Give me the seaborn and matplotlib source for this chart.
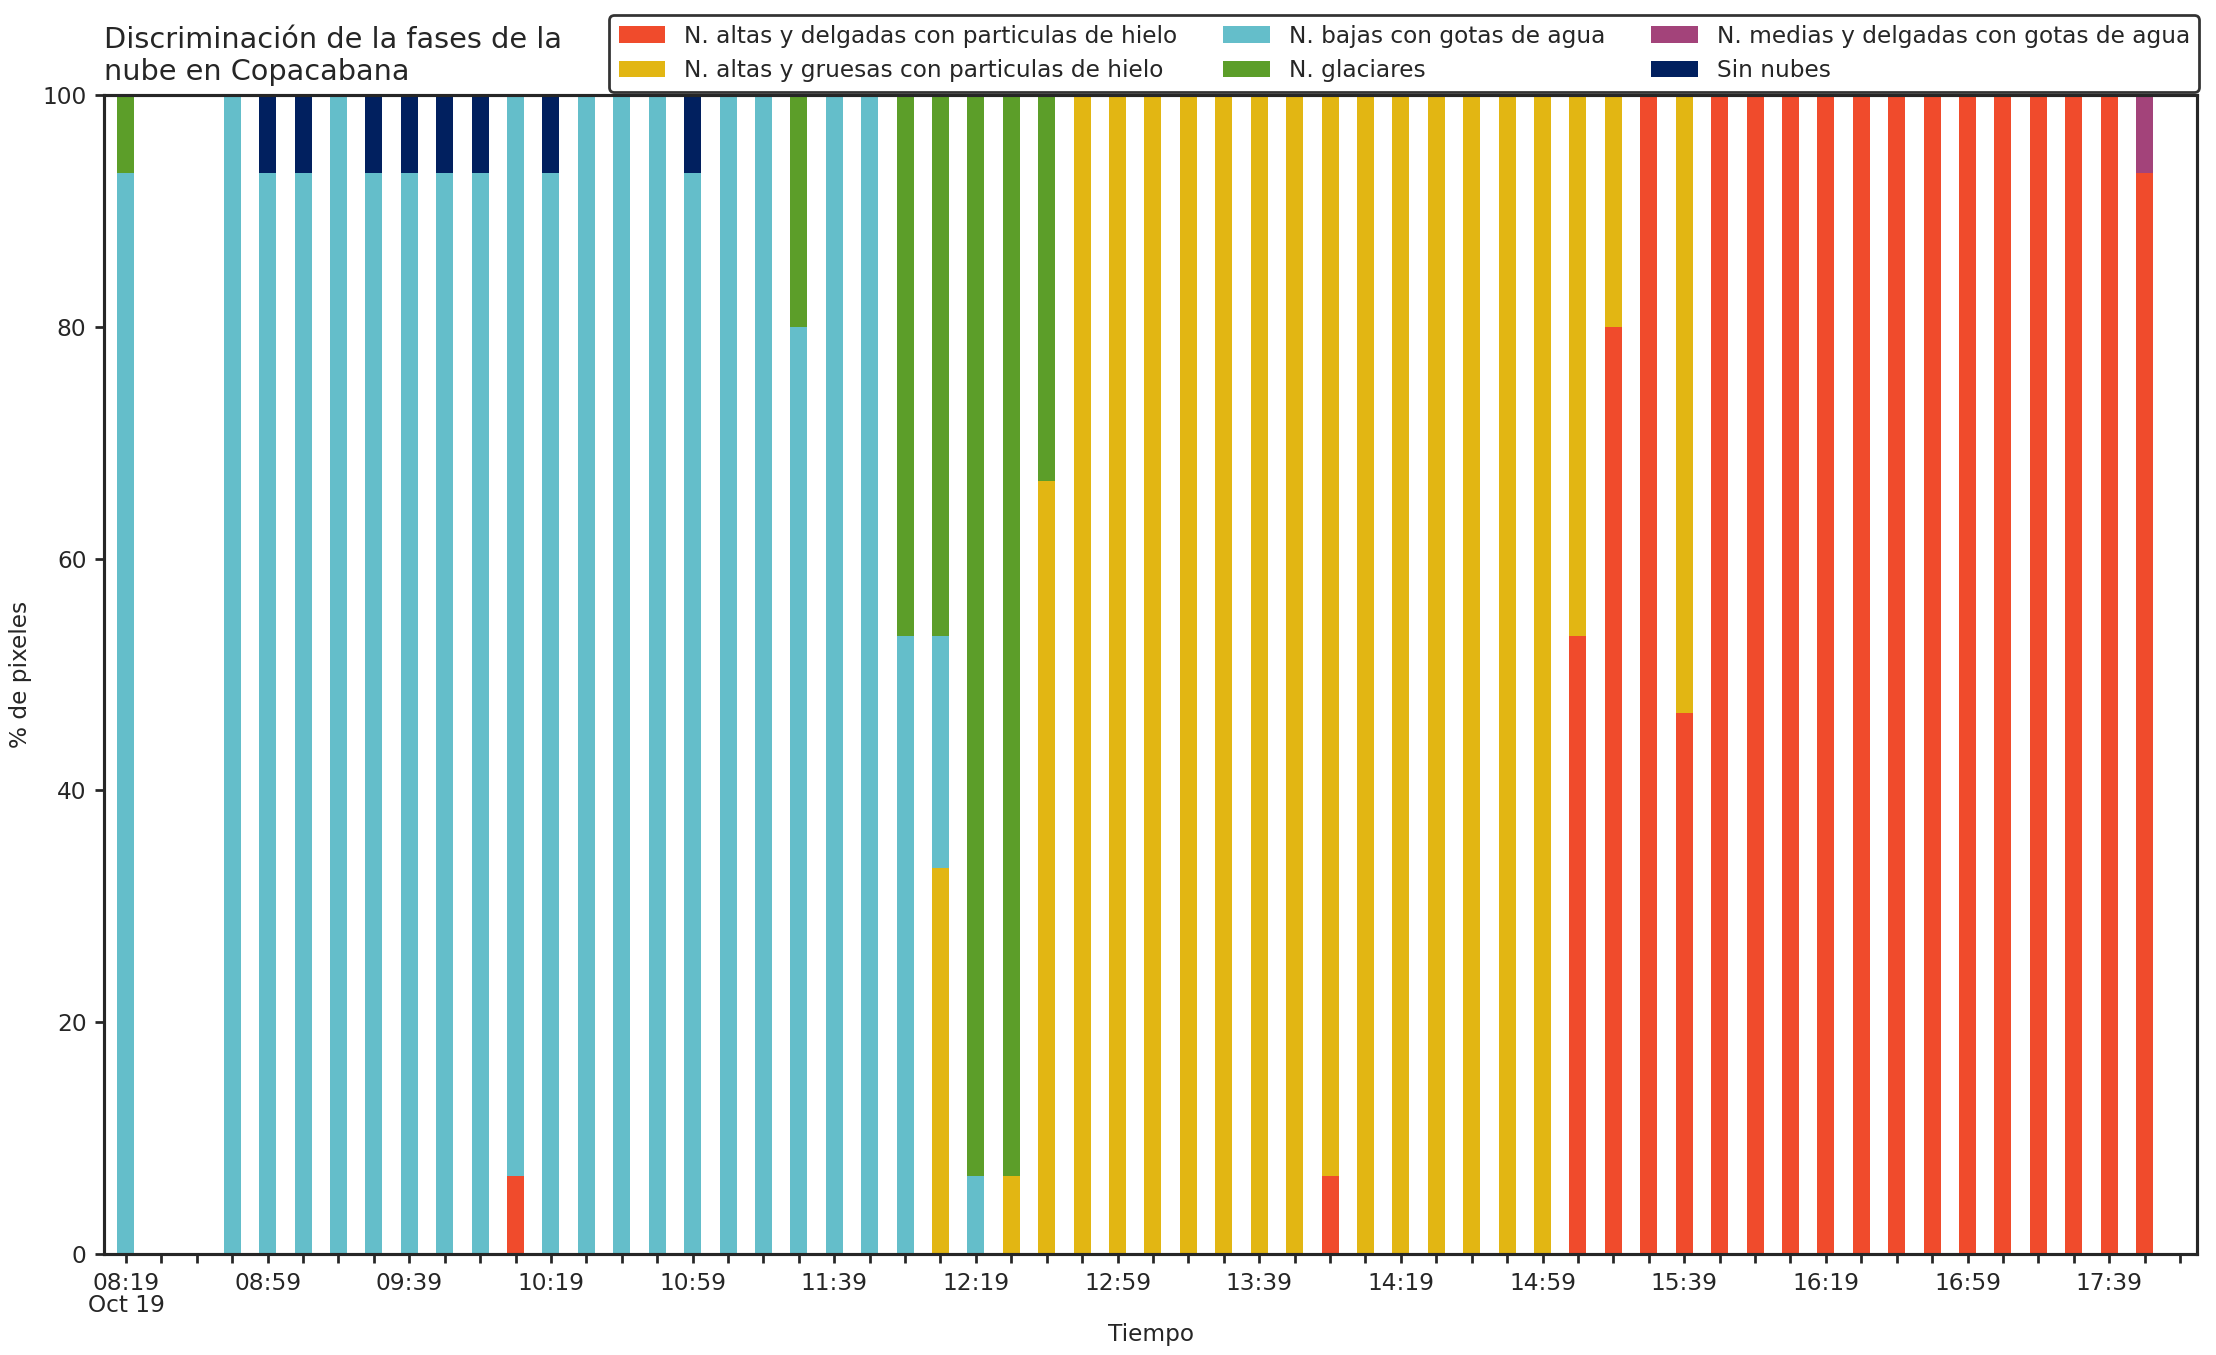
import numpy as np
import pandas as pd
import matplotlib
matplotlib.use("Agg")
import matplotlib.pyplot as plt
from matplotlib.patches import Patch
import seaborn as sns

# ---- data ----
times = ["08:19", "08:49", "08:59", "09:09", "09:19", "09:29", "09:39", "09:49", "09:59",
         "10:09", "10:19", "10:29", "10:39", "10:49", "10:59", "11:09", "11:19", "11:29",
         "11:39", "11:49", "11:59", "12:09", "12:19", "12:29", "12:39", "12:49", "12:59",
         "13:09", "13:19", "13:29", "13:39", "13:49", "13:59", "14:09", "14:19", "14:29",
         "14:39", "14:49", "14:59", "15:09", "15:19", "15:29", "15:39", "15:49", "15:59",
         "16:09", "16:19", "16:29", "16:39", "16:49", "16:59", "17:09", "17:19", "17:29",
         "17:39", "17:49"]

altas_delgadas = [0, 0, 0, 0, 0, 0, 0, 0, 0,
                  6.7, 0, 0, 0, 0, 0, 0, 0, 0,
                  0, 0, 0, 0, 0, 0, 0, 0, 0,
                  0, 0, 0, 0, 0, 6.7, 0, 0, 0,
                  0, 0, 0, 53.3, 80, 100, 46.7, 100, 100,
                  100, 100, 100, 100, 100, 100, 100, 100, 100,
                  100, 93.3]
altas_gruesas = [0, 0, 0, 0, 0, 0, 0, 0, 0,
                 0, 0, 0, 0, 0, 0, 0, 0, 0,
                 0, 0, 0, 33.3, 0, 6.7, 66.7, 100, 100,
                 100, 100, 100, 100, 100, 93.3, 100, 100, 100,
                 100, 100, 100, 46.7, 20, 0, 53.3, 0, 0,
                 0, 0, 0, 0, 0, 0, 0, 0, 0,
                 0, 0]
bajas_agua = [93.3, 100, 93.3, 93.3, 100, 93.3, 93.3, 93.3, 93.3,
              93.3, 93.3, 100, 100, 100, 93.3, 100, 100, 80,
              100, 100, 53.3, 20, 6.7, 0, 0, 0, 0,
              0, 0, 0, 0, 0, 0, 0, 0, 0,
              0, 0, 0, 0, 0, 0, 0, 0, 0,
              0, 0, 0, 0, 0, 0, 0, 0, 0,
              0, 0]
glaciares = [6.7, 0, 0, 0, 0, 0, 0, 0, 0,
             0, 0, 0, 0, 0, 0, 0, 0, 20,
             0, 0, 46.7, 46.7, 93.3, 93.3, 33.3, 0, 0,
             0, 0, 0, 0, 0, 0, 0, 0, 0,
             0, 0, 0, 0, 0, 0, 0, 0, 0,
             0, 0, 0, 0, 0, 0, 0, 0, 0,
             0, 0]
medias_agua = [0] * 55 + [6.7]
sin_nubes = [0, 0, 6.7, 6.7, 0, 6.7, 6.7, 6.7, 6.7,
             0, 6.7, 0, 0, 0, 6.7, 0, 0, 0,
             0, 0, 0, 0, 0, 0, 0, 0, 0,
             0, 0, 0, 0, 0, 0, 0, 0, 0,
             0, 0, 0, 0, 0, 0, 0, 0, 0,
             0, 0, 0, 0, 0, 0, 0, 0, 0,
             0, 0]

categories = ["N. altas y delgadas con particulas de hielo",
              "N. altas y gruesas con particulas de hielo",
              "N. bajas con gotas de agua",
              "N. glaciares",
              "N. medias y delgadas con gotas de agua",
              "Sin nubes"]
colors = ["#F04B2C", "#E2B613", "#64BECA", "#5C9E29", "#A3437A", "#01205F"]

tick_times = ["08:19", "08:29", "08:39", "08:49", "08:59", "09:09", "09:19", "09:29", "09:39",
              "09:49", "09:59", "10:09", "10:19", "10:29", "10:39", "10:49", "10:59", "11:09",
              "11:19", "11:29", "11:39", "11:49", "11:59", "12:09", "12:19", "12:29", "12:39",
              "12:49", "12:59", "13:09", "13:19", "13:29", "13:39", "13:49", "13:59", "14:09",
              "14:19", "14:29", "14:39", "14:49", "14:59", "15:09", "15:19", "15:29", "15:39",
              "15:49", "15:59", "16:09", "16:19", "16:29", "16:39", "16:49", "16:59", "17:09",
              "17:19", "17:29", "17:39", "17:49", "17:59"]
label_every = 4
first_label_extra = "Oct 19"

series = [altas_delgadas, altas_gruesas, bajas_agua, glaciares, medias_agua, sin_nubes]

# ---- build long table (slot index = position in 10-minute grid) ----
slot_of = {t: i for i, t in enumerate(tick_times)}
rows = []
for cat, vals in zip(categories, series):
    for t, v in zip(times, vals):
        rows.append({"slot": slot_of[t], "cat": cat, "value": v})
df = pd.DataFrame(rows)

sns.set_style("ticks")
base = 9.3
plt.rcParams.update({
    "font.family": ["DejaVu Sans"],
    "font.size": base,
    "axes.titlesize": 11.5,
    "axes.labelsize": base,
    "xtick.labelsize": base,
    "ytick.labelsize": base,
    "legend.fontsize": base,
    "axes.edgecolor": "#262626",
    "xtick.color": "#262626",
    "ytick.color": "#262626",
})

fig = plt.figure(figsize=(2216 / 180, 1355 / 180), dpi=180)
ax = fig.add_axes([104 / 2216, 1 - 1254 / 1355, (2197 - 104) / 2216, (1254 - 95) / 1355])

# seaborn stacks the first hue level on top, so reverse the order
sns.histplot(data=df, x="slot", weights="value", hue="cat",
             hue_order=categories[::-1], palette=colors[::-1],
             multiple="stack", discrete=True, shrink=0.48,
             alpha=1, linewidth=0, edgecolor="none", legend=False, ax=ax)

ax.set_xlim(-0.62, 58.48)
ax.set_ylim(0, 100)
ax.set_yticks([0, 20, 40, 60, 80, 100])
ax.set_xticks(range(len(tick_times)))
labels = []
for i, t in enumerate(tick_times):
    if i % label_every == 0 and i // label_every <= 14:
        labels.append(t + ("\n" + first_label_extra if i == 0 else ""))
    else:
        labels.append("")
ax.set_xticklabels(labels)
for lab in ax.get_xticklabels():
    lab.set_linespacing(0.95)
ax.tick_params(axis="both", length=3.5, width=1.1)
for s in ax.spines.values():
    s.set_linewidth(1.25)
    s.set_visible(True)

ax.set_xlabel("Tiempo", labelpad=2.5)
ax.set_ylabel("% de pixeles")
ax.set_title("Discriminación de la fases de la\nnube en Copacabana", loc="left")

handles = [Patch(facecolor=c, edgecolor="none", label=l) for c, l in zip(colors, categories)]
leg = ax.legend(handles=handles, ncol=3, loc="lower right",
                bbox_to_anchor=(1.001, 1.003), frameon=True, fancybox=True,
                edgecolor="#333333", framealpha=1, borderaxespad=0)
leg.get_frame().set_linewidth(1.1)

fig.savefig("out.png", dpi=180)
